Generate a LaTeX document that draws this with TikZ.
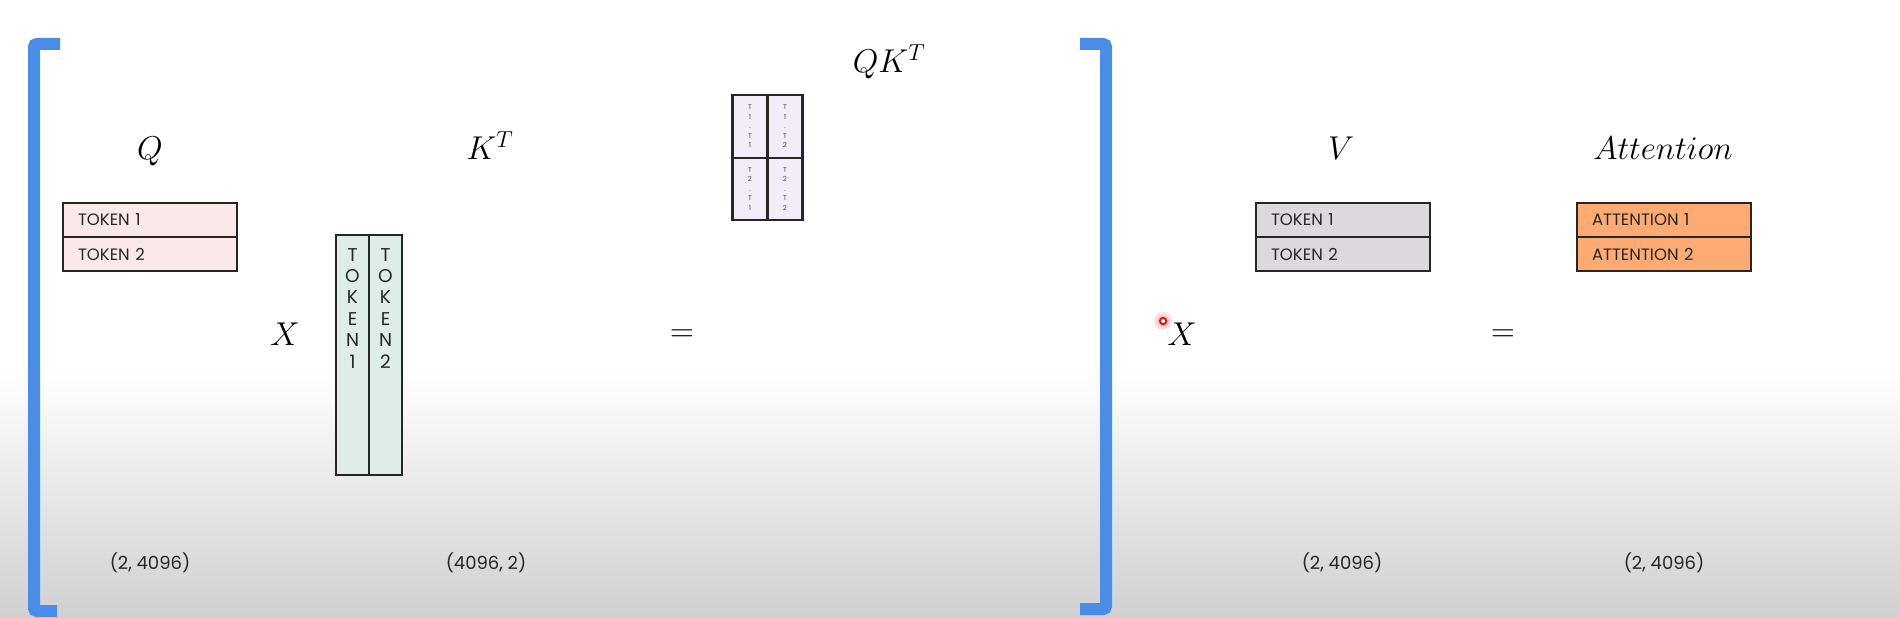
\RequirePackage{fix-cm}
\documentclass[tikz,border=0pt]{standalone}
\usepackage{fontspec}
\setmainfont{Poppins}
\definecolor{boxline}{HTML}{262626}
\definecolor{txt}{HTML}{262626}
\definecolor{qfill}{HTML}{FBE9E9}
\definecolor{kfill}{HTML}{DEECEA}
\definecolor{qkfill}{HTML}{F2EDF9}
\definecolor{qktxt}{HTML}{4E4660}
\definecolor{vfill}{HTML}{DCD8DE}
\definecolor{afill}{HTML}{FDAB72}
\definecolor{bracketblue}{HTML}{4A8DE6}
\definecolor{bggray}{HTML}{D0D0D0}
\tikzset{
  cell/.style={draw=boxline, line width=2.2pt, minimum height=34pt, inner xsep=15pt,
    inner ysep=0pt, text width=144pt, align=left, font=\fontsize{16.5}{19}\selectfont, text=txt},
  colbox/.style={draw=boxline, line width=2.2pt, minimum width=33pt, minimum height=240pt,
    inner sep=0pt, fill=kfill},
  coltext/.style={anchor=north, inner sep=0pt, align=center, text=txt,
    font=\fontsize{18.5}{21.4}\selectfont},
  qkcell/.style={draw=boxline, line width=2.2pt, minimum width=35pt, minimum height=62.5pt,
    inner sep=0pt, fill=qkfill, align=center, text=qktxt, font=\fontsize{7}{9.5}\selectfont},
  mlabel/.style={anchor=base, inner sep=0pt, font=\fontsize{33}{38}\selectfont},
  dimlabel/.style={inner sep=0pt, text=txt, font=\fontsize{18}{22}\selectfont},
  bracketline/.style={draw=bracketblue, line width=12pt, rounded corners=3pt}
}
\begin{document}
\begin{tikzpicture}[x=1pt,y=-1pt]
  % background
  \fill[white] (0,0) rectangle (1900,618);
  \shade[top color=white, bottom color=bggray] (0,370) rectangle (1900,618);
  \useasboundingbox (0,0) rectangle (1900,618);

  % brackets
  \draw[bracketline] (60,44) -- (34,44) -- (34,611) -- (57,611);
  \draw[bracketline] (1080,44) -- (1106,44) -- (1106,609) -- (1080,609);

  % Q
  \node[mlabel] (qlab) at (150,159) {$Q$};
  \node[cell, fill=qfill] (q1) at (150,220) {TOKEN 1};
  \node[cell, fill=qfill] (q2) at (150,254) {TOKEN 2};
  \node[dimlabel] (qdim) at (150,563) {(2, 4096)};

  % X
  \node[mlabel] (x1) at (285,345) {$X$};

  % K^T
  \node[mlabel] (klab) at (490,159) {$K^T$};
  \node[colbox] (k1) at (352.5,355) {};
  \node[colbox] (k2) at (385.5,355) {};
  \node[coltext] (k1t) at (352.5,248) {T\\O\\K\\E\\N\\1};
  \node[coltext] (k2t) at (385.5,248) {T\\O\\K\\E\\N\\2};
  \node[dimlabel] (kdim) at (486,563) {(4096, 2)};

  % =
  \node[inner sep=0pt, font=\fontsize{33}{38}\selectfont] (eq1) at (682,336) {$=$};

  % QK^T
  \node[mlabel] (qklab) at (889,72) {$QK^T$};
  \node[qkcell] (c11) at (750,126.5) {T\\1\\.\\T\\1};
  \node[qkcell] (c12) at (785,126.5) {T\\1\\.\\T\\2};
  \node[qkcell] (c21) at (750,189) {T\\2\\.\\T\\1};
  \node[qkcell] (c22) at (785,189) {T\\2\\.\\T\\2};

  % pointer
  \fill[red, opacity=0.12] (1163,321) circle (9pt);
  \fill[red, opacity=0.12] (1163,321) circle (6pt);
  \draw[red, line width=1.8pt, fill=white] (1163,321) circle (3.2pt);

  % X second
  \node[mlabel] (x2) at (1182,345) {$X$};

  % V
  \node[mlabel] (vlab) at (1341,159) {$V$};
  \node[cell, fill=vfill] (v1) at (1343,220) {TOKEN 1};
  \node[cell, fill=vfill] (v2) at (1343,254) {TOKEN 2};
  \node[dimlabel] (vdim) at (1342,563) {(2, 4096)};

  % =
  \node[inner sep=0pt, font=\fontsize{33}{38}\selectfont] (eq2) at (1503,336) {$=$};

  % Attention
  \node[mlabel] (alab) at (1663,159) {$Attention$};
  \node[cell, fill=afill] (a1) at (1664,220) {ATTENTION 1};
  \node[cell, fill=afill] (a2) at (1664,254) {ATTENTION 2};
  \node[dimlabel] (adim) at (1664,563) {(2, 4096)};
\end{tikzpicture}
\end{document}
